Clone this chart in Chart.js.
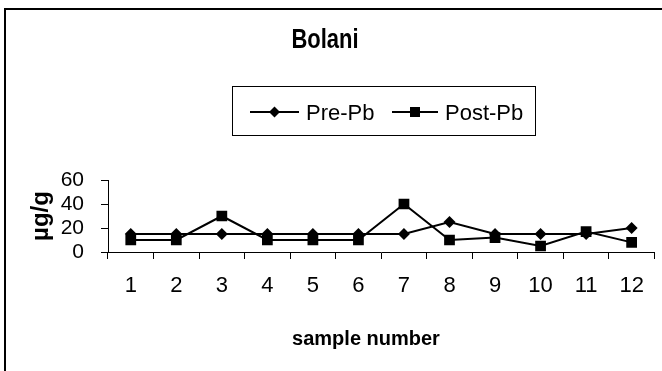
<!DOCTYPE html>
<html>
<head>
<meta charset="utf-8">
<script src="https://cdn.jsdelivr.net/npm/chart.js@4/dist/chart.umd.min.js"></script>
<style>
  html, body { margin: 0; padding: 0; background: #fff; }
  #wrap { position: relative; width: 662px; height: 371px; overflow: hidden; }
  #c { position: absolute; left: 0; top: 0; }
  #ov { position: absolute; left: 0; top: 0; pointer-events: none; }
</style>
</head>
<body>
<div id="wrap">
  <canvas id="c" width="662" height="371"></canvas>
  <svg id="ov" width="662" height="371" xmlns="http://www.w3.org/2000/svg">
    <polyline points="5,371 5,9 662,9" fill="none" stroke="#000" stroke-width="2"/>
    <text id="ttl" transform="translate(325,48) scale(1,1.22)" x="0" y="0" text-anchor="middle" font-family="Liberation Sans, Arial, sans-serif" font-weight="bold" font-size="22">Bolani</text>
    <rect x="232.5" y="86.5" width="303" height="49" fill="#fff" stroke="#000" stroke-width="1"/>
    <line x1="250" y1="112" x2="299" y2="112" stroke="#000" stroke-width="2"/>
    <polygon points="274.5,106.5 280,112 274.5,117.5 269,112" fill="#000"/>
    <text id="lg1" x="306" y="120" font-family="Liberation Sans, Arial, sans-serif" font-size="22">Pre-Pb</text>
    <line x1="392" y1="112" x2="438" y2="112" stroke="#000" stroke-width="2"/>
    <rect x="410" y="107" width="10" height="10" fill="#000"/>
    <text id="lg2" x="445" y="120" font-family="Liberation Sans, Arial, sans-serif" font-size="22">Post-Pb</text>
    <text id="xt" x="366" y="345" text-anchor="middle" font-family="Liberation Sans, Arial, sans-serif" font-weight="bold" font-size="20">sample number</text>
  </svg>
</div>
<script>
const categories = ['1','2','3','4','5','6','7','8','9','10','11','12'];
const prePb = [15, 15, 15, 15, 15, 15, 15, 25, 15, 15, 15, 20];
const postPb = [10, 10, 30, 10, 10, 10, 40, 10, 12, 5, 17, 8];
const seriesNames = ['Pre-Pb', 'Post-Pb'];
const yTicks = [0, 20, 40, 60];
const yTitle = 'µg/g';

const FONT = 'Liberation Sans, Arial, sans-serif';

new Chart(document.getElementById('c'), {
  type: 'line',
  data: {
    labels: categories,
    datasets: [
      {
        label: seriesNames[0], data: prePb, order: 1,
        borderColor: '#000', backgroundColor: '#000', borderWidth: 2,
        pointStyle: 'rectRot', pointRadius: 6, pointBorderWidth: 0,
        fill: false, tension: 0
      },
      {
        label: seriesNames[1], data: postPb, order: 0,
        borderColor: '#000', backgroundColor: '#000', borderWidth: 2,
        pointStyle: 'rect', pointRadius: 7.6, pointBorderWidth: 0,
        fill: false, tension: 0
      }
    ]
  },
  options: {
    responsive: false,
    animation: false,
    layout: { padding: { top: 180, right: 7, bottom: 0, left: 0 } },
    plugins: { legend: { display: false }, title: { display: false }, tooltip: { enabled: false } },
    scales: {
      x: {
        type: 'category',
        offset: true,
        afterFit: (s) => { s.height = 119; },
        grid: { display: true, drawOnChartArea: false, drawTicks: true, tickLength: 7, offset: true, color: '#000', lineWidth: 1 },
        border: { display: true, color: '#000', width: 1 },
        ticks: { color: '#000', font: { family: FONT, size: 22 }, padding: 14, maxRotation: 0, autoSkip: false }
      },
      y: {
        min: 0, max: 60,
        afterFit: (s) => { s.width = 108; },
        afterBuildTicks: (s) => { s.ticks = yTicks.map(v => ({ value: v })); },
        grid: { display: true, drawOnChartArea: false, drawTicks: true, tickLength: 7, color: '#000', lineWidth: 1 },
        border: { display: true, color: '#000', width: 1 },
        ticks: { color: '#000', font: { family: FONT, size: 21 }, padding: 17, autoSkip: false },
        title: { display: true, text: yTitle, color: '#000', font: { family: FONT, size: 24, weight: 'bold' }, padding: { top: 27, bottom: 0 } }
      }
    }
  }
});
</script>
</body>
</html>
